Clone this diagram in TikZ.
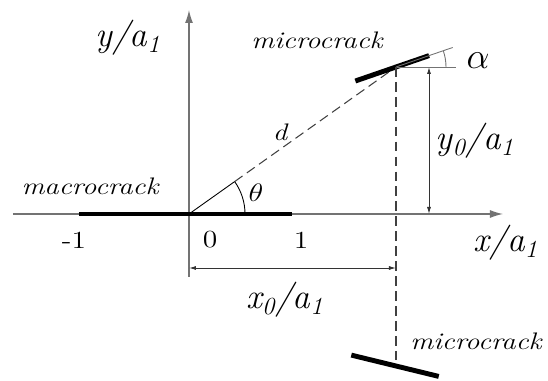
\documentclass[tikz,border=0pt]{standalone}
\usetikzlibrary{calc}
\usetikzlibrary{arrows.meta}

\newcommand{\wide}[1]{\scalebox{1.2}[1]{#1}}
\tikzset{
    small/.style={font=\itshape\fontsize{13.6}{16}\selectfont, inner sep=0pt},
    nums/.style={font=\fontsize{14}{16}\selectfont, inner sep=0pt},
    big/.style={font=\itshape\fontsize{20}{24}\selectfont, inner sep=0pt},
    axis/.style={draw=black!55, line width=0.7pt},
    crack/.style={line width=2.8pt},
    guide/.style={draw=black!75, line width=0.6pt, dash pattern=on 5.5pt off 3pt},
    thinline/.style={draw=black!55, line width=0.5pt},
    dim/.style={draw=black!80, line width=0.5pt, {Latex[length=1.4mm,width=0.8mm]}-{Latex[length=1.4mm,width=0.8mm]}},
}

\begin{document}
\begin{tikzpicture}
    \useasboundingbox (-3.78,-3.34) rectangle (7.18,4.28);

    \coordinate (O) at (0,0);
    \coordinate (P) at (4.14,2.94);
    \coordinate (Q) at (4.14,-3.04);
    \coordinate (xs) at (-3.52,0);
    \coordinate (xe) at (6.28,0);
    \coordinate (ys) at (0,-1.26);
    \coordinate (ye) at (0,4.08);

    % axes
    \draw [axis, -{Latex[length=2.6mm,width=1.6mm]}] (xs) -- (xe);
    \draw [axis, -{Latex[length=2.6mm,width=1.6mm]}] (ys) -- (ye);

    % macrocrack
    \coordinate (ml) at (-2.2,0);
    \coordinate (mr) at (2.06,0);
    \draw [crack] (ml) -- (mr);

    % d and theta
    \coordinate (T) at ($(O)!1.12cm!(P)$);
    \draw [line width=0.5pt] (O) -- (T);
    \draw [guide] (T) -- (P);
    \draw [line width=0.5pt] (1.12,0) arc (0:35.4:1.12);

    % upper microcrack
    \draw [crack] ($(P)+(199:0.86)$) -- ($(P)+(19:0.70)$);
    \coordinate (Ph) at ($(P)+(1.2,0)$);
    \coordinate (Pa) at ($(P)+(19:1.2)$);
    \draw [thinline] (P) -- (Ph);
    \draw [thinline] (P) -- (Pa);
    \draw [thinline] ($(P)+(1.0,0)$) arc (0:19:1.0);

    % lower microcrack
    \draw [guide] (P) -- (Q);
    \draw [crack] ($(Q)+(166.3:0.92)$) -- ($(Q)+(-13.7:0.88)$);

    % dimensions
    \coordinate (y0t) at (4.80,2.94);
    \coordinate (y0b) at (4.80,0);
    \coordinate (e1) at (4.14,0);
    \coordinate (e2) at (4.96,0);
    \draw [thinline, line width=0.8pt] (e1) -- (e2);
    \draw [dim] (y0t) -- (y0b);
    \coordinate (x0l) at (0,-1.08);
    \coordinate (x0r) at (4.14,-1.08);
    \draw [dim] (x0l) -- (x0r);

    % labels
    \node [big] (ylab) at (-1.22, 3.52) {y/a\textsubscript{1}};
    \node [big] (xlab) at (6.34, -0.58) {x/a\textsubscript{1}};
    \node [big] (x0lab) at (1.92, -1.72) {x\textsubscript{0}/a\textsubscript{1}};
    \node [big] (y0lab) at (5.72, 1.46) {y\textsubscript{0}/a\textsubscript{1}};
    \node [big] (alab) at (5.78, 3.06) {$\alpha$};
    \node [small] (mic1) at (2.56, 3.48) {\wide{microcrack}};
    \node [small] (mic2) at (5.74, -2.54) {\wide{microcrack}};
    \node [small] (mac) at (-1.98, 0.56) {\wide{macrocrack}};
    \node [small] (dlab) at (1.82, 1.64) {\wide{d}};
    \node [small] (tlab) at (1.34, 0.42) {\wide{$\theta$}};
    \node [nums] (n1) at (-2.3, -0.52) {\wide{-1}};
    \node [nums] (n0) at (0.42, -0.52) {\wide{0}};
    \node [nums] (p1) at (2.24, -0.52) {\wide{1}};
\end{tikzpicture}
\end{document}
